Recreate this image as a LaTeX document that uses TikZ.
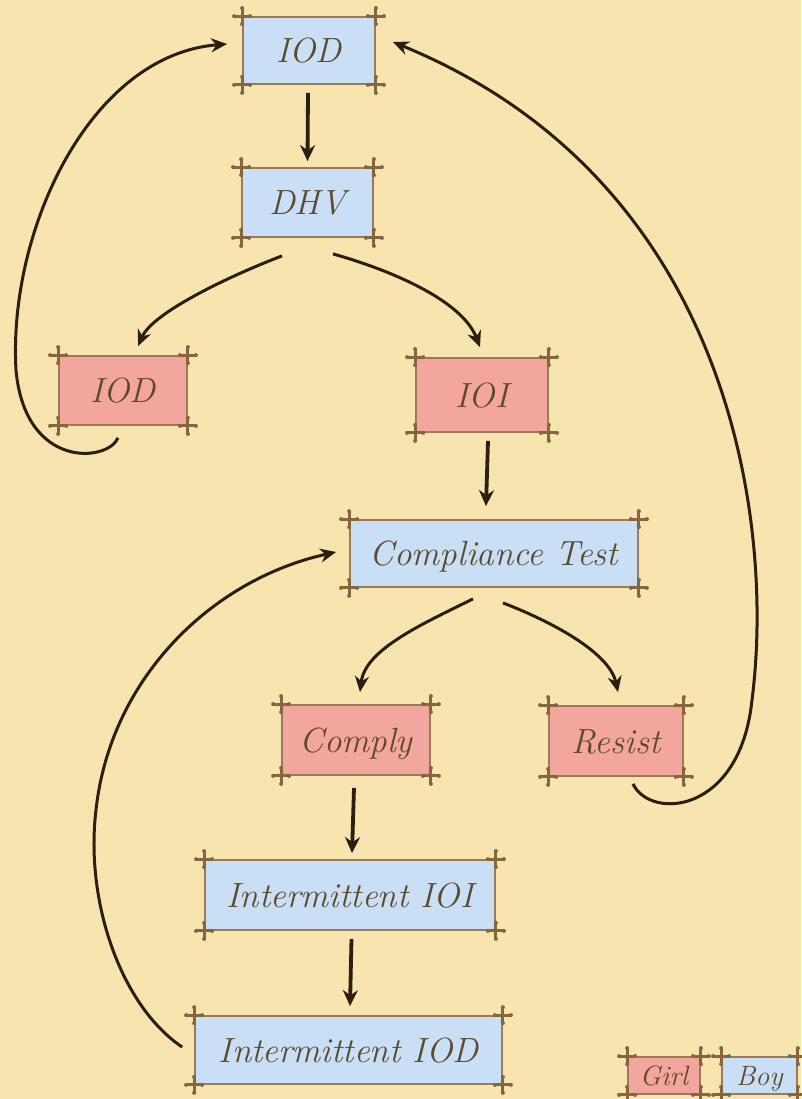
\documentclass[tikz,border=0pt]{standalone}
\usetikzlibrary{arrows.meta}

\definecolor{parch}{HTML}{F7E4AF}
\definecolor{boyfill}{HTML}{C8DFF5}
\definecolor{girlfill}{HTML}{F3A69D}
\definecolor{rim}{HTML}{9A7B57}
\definecolor{postc}{HTML}{86663C}
\definecolor{ink}{HTML}{5B4A2E}
\definecolor{arrowc}{HTML}{2C1F10}

\tikzset{
  card/.style={draw=rim, line width=1.8pt, text=ink, inner sep=0pt,
    font=\fontsize{35}{38}\selectfont\itshape, text height=24pt, text depth=0pt},
  boy/.style={card, fill=boyfill},
  girl/.style={card, fill=girlfill},
  keycard/.style={font=\fontsize{28}{30}\selectfont\itshape, text height=19pt},
  postline/.style={draw=postc, line width=3pt, line cap=round},
  flow/.style={draw=arrowc, line width=3.8pt, -{Stealth[length=16pt,width=15pt]}},
  loopflow/.style={draw=arrowc, line width=3pt, -{Stealth[length=16pt,width=14pt]}},
}

% little wooden cross-pieces at the four corners of a card
\newcommand\cardposts[1]{%
  \foreach \c in {north west,north east,south west,south east}{%
    \draw[postline] ([xshift=-8pt]#1.\c) -- ([xshift=8pt]#1.\c);
    \draw[postline] ([yshift=-8pt]#1.\c) -- ([yshift=8pt]#1.\c);
    \fill[postc] ([xshift=-8pt]#1.\c) circle (2pt) ([xshift=8pt]#1.\c) circle (2pt)
                 ([yshift=-8pt]#1.\c) circle (2pt) ([yshift=8pt]#1.\c) circle (2pt);
  }}

\begin{document}
\begin{tikzpicture}[x=1pt,y=-1pt]
\fill[parch] (0,0) rectangle (801,1099);
\useasboundingbox (0,0) rectangle (801,1099);

% cards
\node[boy,  minimum width=132, minimum height=67] (iodtop) at (309,50.5)  {IOD};
\node[boy,  minimum width=131, minimum height=69] (dhv)    at (307.5,202.5) {DHV};
\node[girl, minimum width=128, minimum height=69] (iodg)   at (123,390.5) {IOD};
\node[girl, minimum width=132, minimum height=74] (ioi)    at (482,395)   {IOI};
\node[boy,  minimum width=288, minimum height=67] (ct)     at (494,553.5) {Compliance Test};
\node[girl, minimum width=148, minimum height=70] (comply) at (356,740)   {Comply};
\node[girl, minimum width=134, minimum height=70] (resist) at (616,741)   {Resist};
\node[boy,  minimum width=290, minimum height=70] (iioi)   at (350,895)   {Intermittent IOI};
\node[boy,  minimum width=307, minimum height=68] (iiod)   at (348.5,1050) {Intermittent IOD};

% key
\node[girl, keycard, minimum width=72, minimum height=37] (kgirl) at (664,1075.5) {Girl};
\node[boy,  keycard, minimum width=75, minimum height=37] (kboy)  at (759.5,1075.5) {Boy};

\foreach \n in {iodtop,dhv,iodg,ioi,ct,comply,resist,iioi,iiod,kgirl,kboy}{\cardposts{\n}}

% straight steps
\draw[flow] ([xshift=-1pt,yshift=-8pt]iodtop.south) -- ([yshift=6pt]dhv.north);
\draw[flow] ([xshift=6pt,yshift=-8pt]ioi.south) -- ([xshift=-8pt,yshift=13pt]ct.north);
\draw[flow] ([xshift=-2pt,yshift=-12pt]comply.south) -- ([xshift=2pt,yshift=6pt]iioi.north);
\draw[flow] ([xshift=1.5pt,yshift=-8pt]iioi.south) -- ([xshift=1.5pt,yshift=9pt]iiod.north);

% branches
\draw[loopflow] ([xshift=-25.5pt,yshift=-18pt]dhv.south)
  .. controls (232,275) and (153,312) .. ([xshift=15pt,yshift=9pt]iodg.north);
\draw[loopflow] ([xshift=25.5pt,yshift=-16pt]dhv.south)
  .. controls (390,270) and (462,300) .. ([xshift=-2pt,yshift=10pt]ioi.north);
\draw[loopflow] ([xshift=-21pt,yshift=-11pt]ct.south)
  .. controls (420,625) and (365,650) .. ([xshift=4pt,yshift=12pt]comply.north);
\draw[loopflow] ([xshift=9pt,yshift=-15pt]ct.south)
  .. controls (560,625) and (610,655) .. ([xshift=2pt,yshift=13pt]resist.north);

% loops back
\draw[loopflow] ([xshift=-5pt,yshift=-12pt]iodg.south)
  .. controls (108,462) and (25,470) .. (16,370)
  .. controls (8,230) and (90,55) .. ([xshift=-15pt,yshift=6.5pt]iodtop.west);
\draw[loopflow] ([xshift=17pt,yshift=-7pt]resist.south)
  .. controls (650,820) and (740,815) .. (752,700)
  .. controls (775,520) and (730,180) .. ([xshift=17pt,yshift=8.5pt]iodtop.east);
\draw[loopflow] ([xshift=-12pt,yshift=3pt]iiod.west)
  .. controls (120,1005) and (85,900) .. (96,810)
  .. controls (110,680) and (210,580) .. ([xshift=-13pt,yshift=1.5pt]ct.west);
\end{tikzpicture}
\end{document}
